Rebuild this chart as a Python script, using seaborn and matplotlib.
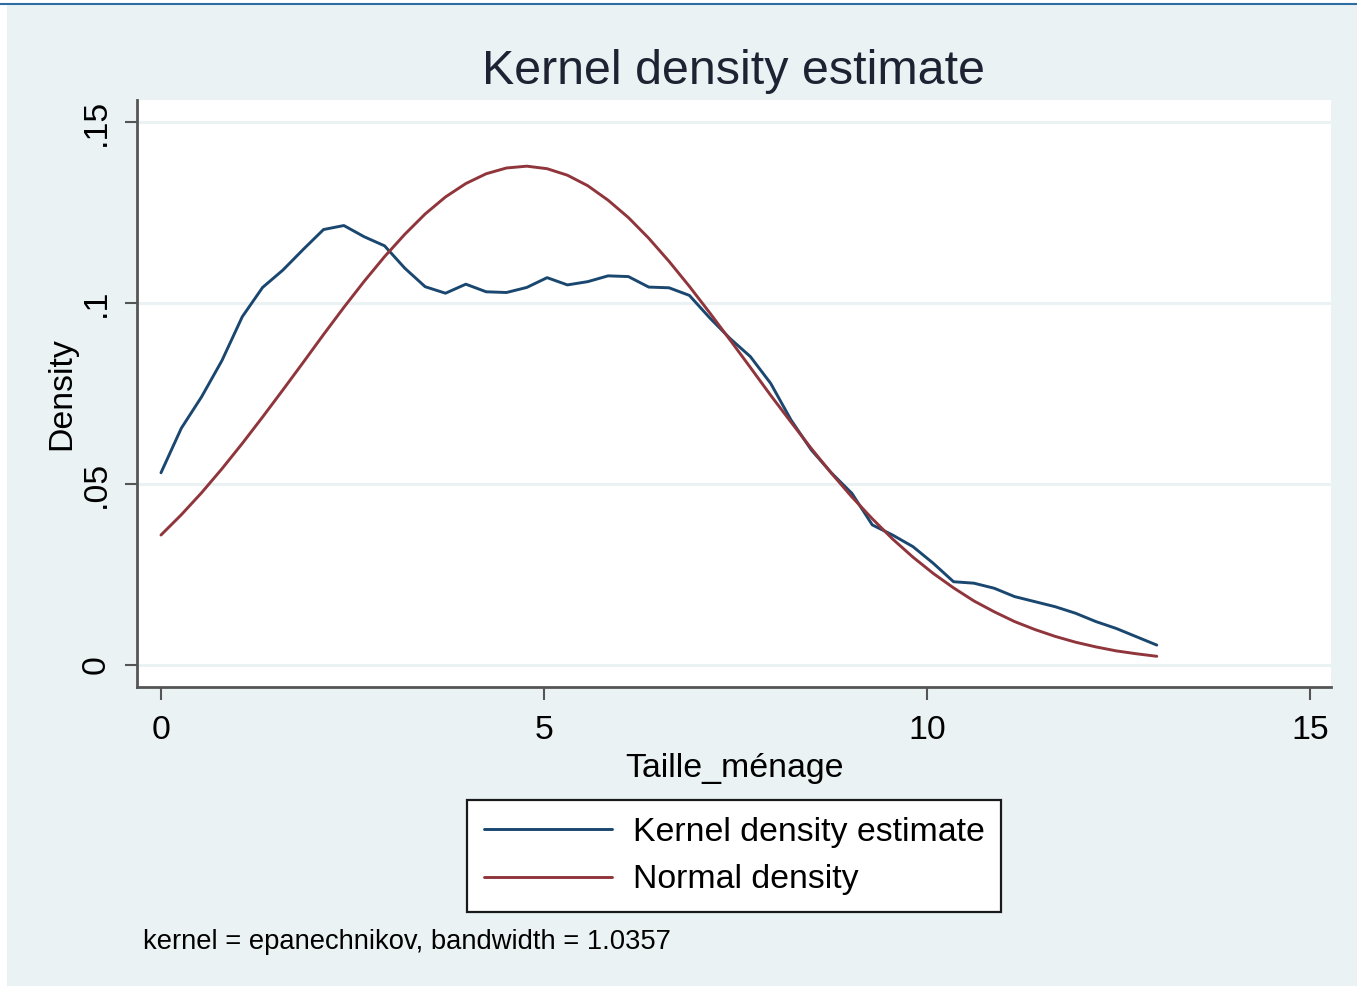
import numpy as np
import pandas as pd
import matplotlib
matplotlib.use("Agg")
import matplotlib.pyplot as plt
import seaborn as sns
from matplotlib.patches import Rectangle
from matplotlib.lines import Line2D

# ---- data ----
x_min, x_max, n_points = 0.0, 13.0, 50
taille = [round(x_min + i * (x_max - x_min) / (n_points - 1), 4) for i in range(n_points)]

kernel_density = [
    0.0531, 0.0654, 0.0741, 0.0841, 0.0962, 0.1043, 0.1091, 0.1148, 0.1203, 0.1214,
    0.1183, 0.1158, 0.1096, 0.1045, 0.1027, 0.1052, 0.1031, 0.1029, 0.1043, 0.1070,
    0.1050, 0.1059, 0.1075, 0.1073, 0.1044, 0.1042, 0.1021, 0.0959, 0.0902, 0.0852,
    0.0778, 0.0677, 0.0594, 0.0530, 0.0474, 0.0387, 0.0359, 0.0327, 0.0281, 0.0230,
    0.0226, 0.0212, 0.0189, 0.0175, 0.0161, 0.0143, 0.0120, 0.0101, 0.0078, 0.0055,
]

normal_density = [
    0.0359, 0.0415, 0.0476, 0.0542, 0.0612, 0.0685, 0.0760, 0.0836, 0.0913, 0.0988,
    0.1060, 0.1128, 0.1190, 0.1246, 0.1293, 0.1330, 0.1357, 0.1373, 0.1378, 0.1371,
    0.1353, 0.1324, 0.1284, 0.1236, 0.1179, 0.1115, 0.1046, 0.0973, 0.0898, 0.0822,
    0.0745, 0.0671, 0.0598, 0.0529, 0.0464, 0.0404, 0.0348, 0.0298, 0.0253, 0.0213,
    0.0177, 0.0147, 0.0120, 0.0098, 0.0079, 0.0063, 0.0050, 0.0039, 0.0031, 0.0024,
]

series_names = ["Kernel density estimate", "Normal density"]
x_ticks = [0, 5, 10, 15]
x_tick_labels = ["0", "5", "10", "15"]
y_ticks = [0, 0.05, 0.10, 0.15]
y_tick_labels = ["0", ".05", ".1", ".15"]
title_text = "Kernel density estimate"
x_label = "Taille_ménage"
y_label = "Density"
note_text = "kernel = epanechnikov, bandwidth = 1.0357"

# ---- style ----
sns.set_theme(style="white")
plt.rcParams["font.family"] = ["Liberation Sans", "DejaVu Sans"]

BG = "#EAF2F3"
GRID = "#EAF2F3"
BLUE = "#1A476F"
RED = "#90353B"
AXC = "#555555"
FS = 24.4

W, H = 1357, 986
fig = plt.figure(figsize=(W / 100, H / 100), dpi=100)
fig.patch.set_facecolor("white")
# graph region background
fig.patches.append(Rectangle((7 / W, 0), 1 - 7 / W, 1 - 5 / H, transform=fig.transFigure,
                             facecolor=BG, edgecolor="none", zorder=-10))
fig.lines.append(Line2D([0, 1], [1 - 4 / H, 1 - 4 / H], transform=fig.transFigure,
                        color="#2E6DA4", linewidth=1.5))

ax = fig.add_axes([137 / W, 1 - 687 / H, (1331 - 137) / W, (687 - 100) / H])
ax.set_facecolor("white")

df = pd.DataFrame({
    "x": taille * 2,
    "density": kernel_density + normal_density,
    "series": [series_names[0]] * n_points + [series_names[1]] * n_points,
})
sns.lineplot(data=df, x="x", y="density", hue="series", palette=[BLUE, RED],
             linewidth=2.1, ax=ax, legend=False, sort=False, estimator=None)

ax.set_xlim(-0.313, 15.274)
ax.set_ylim(-0.00608, 0.15608)

for yv in y_ticks:
    ax.axhline(yv, color=GRID, linewidth=2.2, zorder=0)

ax.set_xticks(x_ticks)
ax.set_xticklabels(x_tick_labels, fontsize=FS, color="black")
ax.set_yticks(y_ticks)
ax.set_yticklabels(y_tick_labels, fontsize=FS, color="black", rotation=90, va="center")
ax.tick_params(axis="both", which="major", direction="out", length=9, width=1.5,
               color=AXC, bottom=True, left=True)
ax.tick_params(axis="x", pad=11)
ax.tick_params(axis="y", pad=9)

for s in ["top", "right"]:
    ax.spines[s].set_visible(False)
for s in ["left", "bottom"]:
    ax.spines[s].set_color(AXC)
    ax.spines[s].set_linewidth(2)

ax.set_xlabel(x_label, fontsize=FS, labelpad=5, color="black")
ax.set_ylabel(y_label, fontsize=FS, labelpad=3, color="black")

fig.text(734 / W, 1 - 72 / H, title_text, ha="center", va="center", fontsize=34.8,
         color="#1E2233")

handles = [Line2D([], [], color=BLUE, linewidth=2.1), Line2D([], [], color=RED, linewidth=2.1)]
leg = fig.legend(handles, series_names, loc="center", bbox_to_anchor=(734 / W, 1 - 856 / H),
                 fontsize=FS, frameon=True, fancybox=False, framealpha=1.0,
                 handlelength=3.8, handletextpad=0.6, labelspacing=0.5, borderpad=0.5,
                 labelcolor="black")
leg.get_frame().set_edgecolor("#1a1a1a")
leg.get_frame().set_linewidth(1.6)
leg.get_frame().set_facecolor("white")

fig.text(143 / W, 1 - 942 / H, note_text, ha="left", va="center", fontsize=19.7, color="black")

fig.savefig("out.png", dpi=100, facecolor=fig.get_facecolor())
